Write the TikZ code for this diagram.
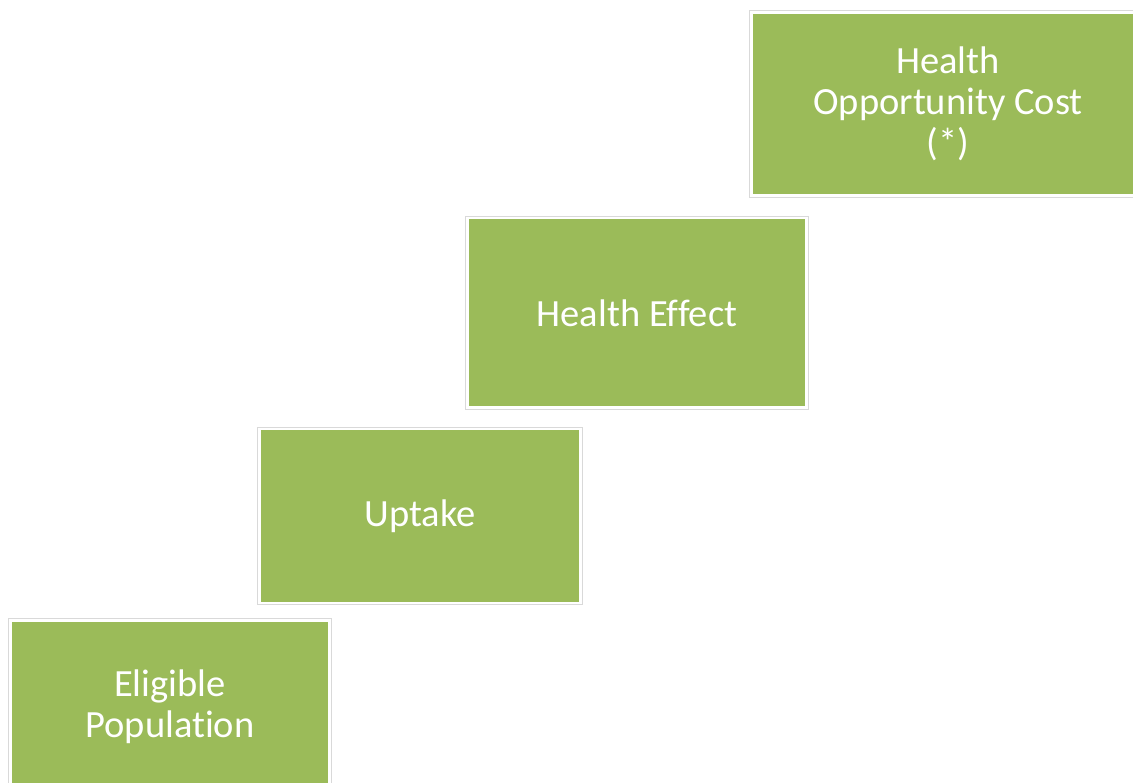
\documentclass[tikz,border=0pt]{standalone}
\usepackage{fontspec}
\setmainfont[Ligatures=NoCommon]{Carlito}
\definecolor{olive}{HTML}{9BBB59}
\definecolor{rim}{HTML}{D9D9D9}
\begin{document}
\begin{tikzpicture}[x=1pt,y=-1pt,
  stepbox/.style={fill=olive, text=white, inner sep=0pt, align=center,
    font=\fontsize{38.5}{41}\selectfont},
  rimline/.style={draw=rim, line width=0.8pt}]
\useasboundingbox (0,0) rectangle (1133,783);
% steps, bottom to top
\node[stepbox, minimum width=316pt, minimum height=170pt] (pop) at (170,707) {Eligible\\Population};
\node[stepbox, minimum width=318pt, minimum height=171pt] (up) at (420,516) {Uptake};
\node[stepbox, minimum width=336pt, minimum height=187pt] (eff) at (637,313) {Health Effect};
\node[stepbox, minimum width=390pt, minimum height=180pt] (hoc) at (948,104) {Health\\Opportunity Cost\\(*)};
% thin outline around each step
\foreach \n in {pop,up,eff,hoc}
  \draw[rimline] ([shift={(-3pt,3pt)}]\n.north west) rectangle ([shift={(3pt,-3pt)}]\n.south east);
\end{tikzpicture}
\end{document}
